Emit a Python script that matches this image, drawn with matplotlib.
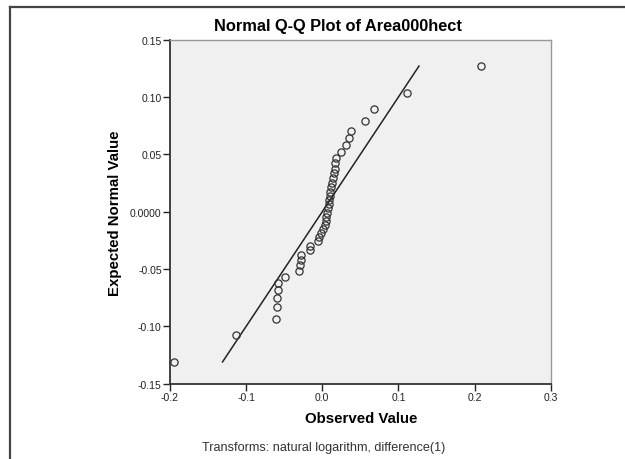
import matplotlib.pyplot as plt
from matplotlib.lines import Line2D

observed = [-0.1947, -0.1132, -0.0605, -0.0596, -0.0596, -0.0588, -0.0583, -0.0496,
            -0.0307, -0.0294, -0.0280, -0.0276, -0.0167, -0.0162, -0.0057, -0.0039,
            -0.0018, 0.0009, 0.0030, 0.0044, 0.0053, 0.0061, 0.0075, 0.0083,
            0.0092, 0.0096, 0.0105, 0.0118, 0.0132, 0.0140, 0.0149, 0.0162,
            0.0171, 0.0184, 0.0241, 0.0311, 0.0355, 0.0382, 0.0557, 0.0684,
            0.1114, 0.2088]
expected = [-0.1313, -0.1073, -0.0936, -0.0834, -0.0753, -0.0683, -0.0619, -0.0567,
            -0.0514, -0.0468, -0.0421, -0.0375, -0.0337, -0.0296, -0.0256, -0.0221,
            -0.0186, -0.0151, -0.0113, -0.0078, -0.0044, -0.0009, 0.0030, 0.0067,
            0.0102, 0.0134, 0.0169, 0.0213, 0.0250, 0.0291, 0.0335, 0.0375,
            0.0422, 0.0468, 0.0523, 0.0582, 0.0643, 0.0706, 0.0791, 0.0893,
            0.1032, 0.1272]
line_ends = [-0.131, 0.127]

x_ticks = [-0.2, -0.1, 0.0, 0.1, 0.2, 0.3]
x_labels = ["-0.2", "-0.1", "0.0", "0.1", "0.2", "0.3"]
y_ticks = [-0.15, -0.10, -0.05, 0.0, 0.05, 0.10, 0.15]
y_labels = ["-0.15", "-0.10", "-0.05", "0.0000", "0.05", "0.10", "0.15"]

plt.rcParams['font.family'] = ['Liberation Sans', 'DejaVu Sans']

fig = plt.figure(figsize=(6.25, 4.6), dpi=100)
ax = fig.add_axes([170 / 625, 1 - 384.7 / 460, 380.7 / 625, 344 / 460])
ax.set_facecolor('#f0f0f0')

ax.plot(line_ends, line_ends, color='#222222', lw=1.1, zorder=2)
ax.plot(observed, expected, 'o', mfc='none', mec='#333333', ms=5.2, mew=0.9, zorder=3)

ax.set_xlim(-0.2, 0.3)
ax.set_ylim(-0.15, 0.15)
ax.set_xticks(x_ticks)
ax.set_xticklabels(x_labels)
ax.set_yticks(y_ticks)
ax.set_yticklabels(y_labels)
ax.tick_params(direction='out', length=5, width=1, labelsize=7.5, pad=1, colors='#222222')

for s in ['left', 'bottom']:
    ax.spines[s].set_color('#333333')
    ax.spines[s].set_linewidth(1.3)
for s in ['top', 'right']:
    ax.spines[s].set_color('#999999')
    ax.spines[s].set_linewidth(1.0)

ax.set_xlabel("Observed Value", fontsize=10.8, fontweight='bold', va='center')
ax.set_ylabel("Expected Normal Value", fontsize=10.8, fontweight='bold', va='center')
ax.xaxis.set_label_coords((361 - 170) / 380.7, (384.7 - 419) / 344)
ax.yaxis.set_label_coords((115 - 170) / 380.7, (384.7 - 213) / 344)

fig.text(338 / 625, 1 - 27 / 460, "Normal Q-Q Plot of Area000hect",
         ha='center', va='center', fontsize=11.8, fontweight='bold')
fig.text(324 / 625, 1 - 448 / 460, "Transforms: natural logarithm, difference(1)",
         ha='center', va='center', fontsize=9.1, color='#333333')

# outer frame (only top and left edges show)
fig.add_artist(Line2D([10 / 625, 1], [1 - 8 / 460, 1 - 8 / 460], color='#444444', lw=1.6))
fig.add_artist(Line2D([10 / 625, 10 / 625], [0, 1 - 8 / 460], color='#444444', lw=1.6))

fig.savefig("out.png", dpi=100)
